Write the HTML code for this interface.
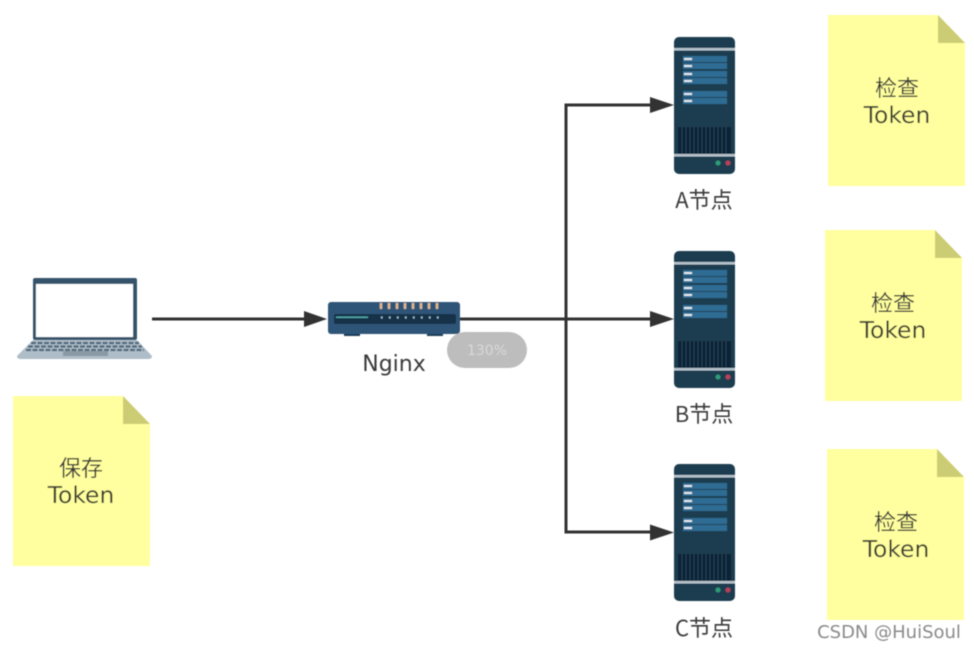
<!DOCTYPE html>
<html>
<head>
<meta charset="utf-8">
<style>
html,body{margin:0;padding:0;background:#fff}
svg{display:block}
text{font-family:"DejaVu Sans","Noto Sans CJK SC",sans-serif;fill:#3c3c3c}
.n{font-family:"DejaVu Sans","Noto Sans CJK SC",sans-serif;font-size:22px;text-anchor:middle;fill:#3a3a3a}
.t{font-family:"DejaVu Sans","Noto Sans CJK SC",sans-serif;font-size:23.4px;text-anchor:middle;fill:#3a3a30}
.cjk{font-family:"Noto Sans CJK SC",sans-serif;font-size:22px;text-anchor:middle;fill:#3a3a3a}
</style>
</head>
<body>
<svg width="974" height="650" viewBox="0 0 974 650" xmlns="http://www.w3.org/2000/svg">
<defs>
<filter id="b" x="-5%" y="-5%" width="110%" height="110%"><feGaussianBlur stdDeviation="0.5"/></filter>
<g id="server">
<rect x="0" y="0" width="61" height="137" rx="5" fill="#1d3c50"/>
<rect x="0" y="11" width="61" height="2.5" fill="#b4c2cb"/>
<rect x="0" y="117" width="61" height="2.5" fill="#b4c2cb"/>
<rect x="9" y="19" width="44" height="6" fill="#2e6c94"/>
<rect x="9" y="26" width="44" height="6" fill="#2e6c94"/>
<rect x="9" y="34" width="44" height="6" fill="#2e6c94"/>
<rect x="9" y="41" width="44" height="6" fill="#2e6c94"/>
<rect x="9" y="54" width="44" height="6" fill="#2e6c94"/>
<rect x="9" y="61" width="44" height="6" fill="#2e6c94"/>
<rect x="10" y="21" width="8" height="2" fill="#dfe9ef"/>
<rect x="10" y="28" width="8" height="2" fill="#dfe9ef"/>
<rect x="10" y="36" width="8" height="2" fill="#dfe9ef"/>
<rect x="10" y="43" width="8" height="2" fill="#dfe9ef"/>
<rect x="10" y="56" width="8" height="2" fill="#dfe9ef"/>
<rect x="10" y="63" width="8" height="2" fill="#dfe9ef"/>
<rect x="4" y="90" width="53" height="27" fill="#0e2236"/>
<path d="M8 90v27M12 90v27M16 90v27M20 90v27M24 90v27M28 90v27M32 90v27M36 90v27M40 90v27M44 90v27M48 90v27M52 90v27" stroke="#24425a" stroke-width="1"/>
<circle cx="44" cy="126" r="2.5" fill="#2f9c78"/>
<circle cx="54" cy="126" r="2.5" fill="#b8405a"/>
</g>
<g id="note">
<path d="M0 0H110L137 28V171H0Z" fill="#ffff9f"/>
<path d="M110 0L137 28H110Z" fill="#cccc74"/>
</g>
<g id="note2">
<path d="M0 0H110L137 28V170H0Z" fill="#ffff9f"/>
<path d="M110 0L137 28H110Z" fill="#cccc74"/>
</g>
</defs>

<rect width="974" height="650" fill="#fff"/>

<g filter="url(#b)">
<!-- connectors -->
<path d="M152 319H307" stroke="#333" stroke-width="3" fill="none"/>
<path d="M327 319L304 311V327Z" fill="#333"/>
<path d="M458 319H651" stroke="#333" stroke-width="3" fill="none"/>
<path d="M674 319L650 311V327Z" fill="#333"/>
<path d="M651 105H566V532H651" stroke="#333" stroke-width="3" fill="none"/>
<path d="M674 105L650 97V113Z" fill="#333"/>
<path d="M674 532.500L650 524.500V540.500Z" fill="#333"/>

<!-- servers -->
<use href="#server" x="674" y="37"/>
<use href="#server" x="674" y="251"/>
<use href="#server" x="674" y="464"/>

<!-- laptop -->
<rect x="33" y="278" width="104" height="62" rx="2" fill="#34536b"/>
<rect x="36" y="284" width="97" height="53" fill="#fff"/>
<path d="M33 340H137L152 356Q152 359 148 359H21Q17 359 17 356Z" fill="#aebdc8"/>
<path d="M31 343H139M28 346.500H142M26 350H144" stroke="#4e6678" stroke-width="2.200" stroke-dasharray="5 1.500" fill="none"/>
<rect x="63" y="351" width="45" height="5" fill="#8a9aa4"/>

<!-- nginx device -->
<rect x="328" y="302" width="132" height="32" rx="3" fill="#2f5578"/>
<rect x="334" y="314" width="122" height="10" rx="2" fill="#163348"/>
<rect x="336" y="316.500" width="32" height="1.500" fill="#4fa7a5"/>
<rect x="344" y="334" width="16" height="2" fill="#1f3e58"/>
<rect x="427" y="334" width="16" height="2" fill="#1f3e58"/>
<path d="M381 303v6M389 303v6M397 303v6M405 303v6M413 303v6M421 303v6M429 303v6M437 303v6" stroke="#e6b78c" stroke-width="2.500"/>
<path d="M381 317.500h1.500M389 317.500h1.500M397 317.500h1.500M405 317.500h1.500M413 317.500h1.500M421 317.500h1.500M429 317.500h1.500M437 317.500h1.500" stroke="#9cc0d2" stroke-width="2"/>

<!-- notes -->
<use href="#note" x="828" y="15"/>
<use href="#note" x="825" y="230"/>
<use href="#note" x="827" y="449"/>
<use href="#note2" x="13" y="396"/>

<!-- zoom badge -->
<rect x="447" y="332" width="80" height="36" rx="18" fill="#bdbdbd"/>
<text x="487" y="355" text-anchor="middle" style="font-size:14px;fill:#d8d8d8">130%</text>

<!-- labels -->
<text class="n" x="394" y="371">Nginx</text>
<text class="cjk" x="704" y="208">A节点</text>
<text class="cjk" x="704" y="422">B节点</text>
<text class="cjk" x="704" y="636">C节点</text>
<text class="cjk" x="897" y="96">检查</text>
<text class="t" x="897" y="123">Token</text>
<text class="cjk" x="893" y="311">检查</text>
<text class="t" x="893" y="338">Token</text>
<text class="cjk" x="896" y="530">检查</text>
<text class="t" x="896" y="557">Token</text>
<text class="cjk" x="81" y="476">保存</text>
<text class="t" x="81" y="503">Token</text>
<text x="889" y="638" text-anchor="middle" style="font-size:18px;fill:#8a8a8a">CSDN @HuiSoul</text>
</g>
</svg>
</body>
</html>
